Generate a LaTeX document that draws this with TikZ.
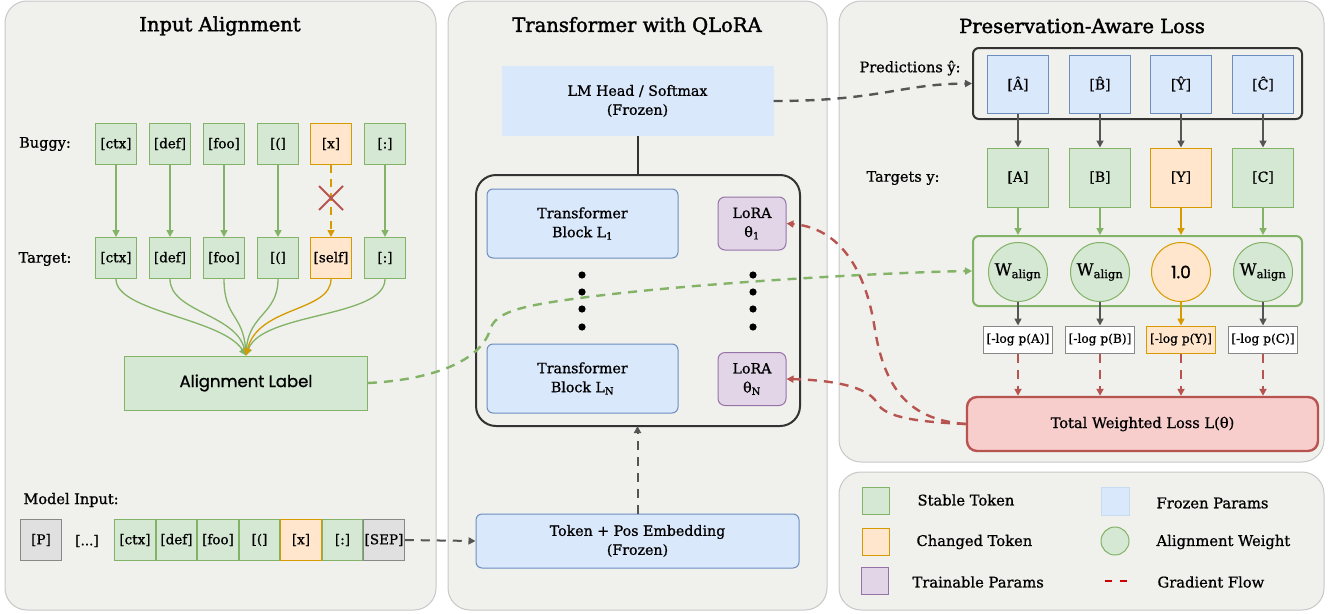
\documentclass[tikz,border=0pt]{standalone}
\usepackage{fontspec}
\setmainfont{DejaVu Serif}[FakeBold=0.9]
\newfontfamily\titleserif{DejaVu Serif}[FakeBold=1.8]
\newfontfamily\labelsans{Poppins}[FakeBold=1.0]
\usetikzlibrary{arrows.meta,positioning}

\definecolor{panelbg}{HTML}{F0F0EC}
\definecolor{panelline}{HTML}{C8C8C8}
\definecolor{stablefill}{HTML}{D5E8D4}
\definecolor{stableline}{HTML}{82B366}
\definecolor{changedfill}{HTML}{FFE6CC}
\definecolor{changedline}{HTML}{D79B00}
\definecolor{frozenfill}{HTML}{DAE8FC}
\definecolor{frozenline}{HTML}{6C8EBF}
\definecolor{trainfill}{HTML}{E1D5E7}
\definecolor{trainline}{HTML}{9673A6}
\definecolor{lossfill}{HTML}{F8CECC}
\definecolor{lossline}{HTML}{B85450}
\definecolor{flowgray}{HTML}{555555}
\definecolor{padfill}{HTML}{E0E0E0}
\definecolor{padline}{HTML}{888888}
\definecolor{darkframe}{HTML}{333333}
\definecolor{gradred}{HTML}{CC0000}

\tikzset{
  panel/.style={draw=panelline, fill=panelbg, rounded corners=22pt, line width=1pt},
  title/.style={font=\titleserif\fontsize{19.5}{22}\selectfont},
  rowlabel/.style={font=\fontsize{14.5}{17}\selectfont},
  tok/.style={draw=stableline, fill=stablefill, minimum size=41pt, inner sep=0pt, line width=1pt, font=\fontsize{13.5}{15}\selectfont},
  chg/.style={tok, draw=changedline, fill=changedfill},
  pad/.style={tok, draw=padline, fill=padfill},
  seqtok/.style={tok, minimum width=40.5pt},
  seqchg/.style={chg, minimum width=40.5pt},
  frozen/.style={fill=frozenfill, draw=frozenline, rounded corners=6pt, line width=1pt, align=center, font=\fontsize{14.2}{19}\selectfont},
  lora/.style={fill=trainfill, draw=trainline, rounded corners=7pt, line width=1pt, minimum width=68pt, minimum height=53pt, align=center, font=\fontsize{14.2}{19}\selectfont},
  pred/.style={draw=frozenline, fill=frozenfill, minimum width=61pt, minimum height=58pt, inner sep=0pt, line width=1pt, font=\fontsize{14}{16}\selectfont},
  tgt/.style={tok, minimum width=61pt, minimum height=59pt, font=\fontsize{14}{16}\selectfont},
  tgtchg/.style={tgt, draw=changedline, fill=changedfill},
  wcirc/.style={circle, draw=stableline, fill=stablefill, minimum size=59pt, inner sep=0pt, line width=1pt, font=\fontsize{16.5}{18}\selectfont},
  ccirc/.style={wcirc, draw=changedline, fill=changedfill, font=\labelsans\fontsize{17}{19}\selectfont},
  logbox/.style={draw=padline, fill=white, minimum width=69pt, minimum height=27pt, inner sep=0pt, line width=1pt, font=\fontsize{12.2}{14}\selectfont},
  logchg/.style={logbox, draw=changedline, fill=changedfill},
  legtext/.style={anchor=west, font=\fontsize{14.7}{17}\selectfont},
  tip/.style={-{Triangle[length=7pt,width=7pt]}},
  garrow/.style={tip, draw=stableline, line width=1.6pt},
  oarrow/.style={tip, draw=changedline, line width=1.6pt},
  karrow/.style={tip, draw=flowgray, line width=1.6pt},
  flowdash/.style={line width=2.4pt, dash pattern=on 9pt off 7pt},
  redflow/.style={tip, flowdash, draw=lossline},
}

\begin{document}
\begin{tikzpicture}[x=1pt,y=-1pt]
\useasboundingbox (0,0) rectangle (1337,613);

% panels
\draw[panel] (5,1) rectangle (436,610);
\draw[panel] (448,1) rectangle (827,610);
\draw[panel] (839,1) rectangle (1324,462);
\draw[panel] (839,472) rectangle (1324,610);

\node[title] (title1) at (220,26) {Input Alignment};
\node[title] (title2) at (637,26) {Transformer with QLoRA};
\node[title] (title3) at (1082,26) {Preservation-Aware Loss};

% ---- input alignment ----
\node[rowlabel] (buggy) at (45,144) {Buggy:};
\node[rowlabel] (target) at (45,259) {Target:};
\foreach \i/\x/\txt/\kind in {1/116/{[ctx]}/tok,2/170/{[def]}/tok,3/224/{[foo]}/tok,4/278/{[(]}/tok,5/331/{[x]}/chg,6/385/{[:]}/tok}
  \node[\kind] (bug\i) at (\x,144) {\txt};
\foreach \i/\x/\txt/\kind in {1/116/{[ctx]}/tok,2/170/{[def]}/tok,3/224/{[foo]}/tok,4/278/{[(]}/tok,5/331/{[self]}/chg,6/385/{[:]}/tok}
  \node[\kind] (tgt\i) at (\x,258) {\txt};
\foreach \i in {1,2,3,4,6}
  \draw[garrow] (bug\i) -- (tgt\i);
\draw[oarrow, dash pattern=on 8pt off 6pt] (bug5) -- (tgt5);
\draw[lossline, line width=2pt] (319,186) -- (343,210) (319,210) -- (343,186);

\node[draw=stableline, fill=stablefill, line width=1pt, minimum width=243pt, minimum height=54pt,
  font=\labelsans\fontsize{16.5}{19}\selectfont] (align) at (246,383) {Alignment Label};
\foreach \i/\ax/\ay/\bx/\by in {1/116/312/222/318,2/170/312/236/314,3/224/318/243/314,4/278/314/249/314,6/385/318/262/312}
  \draw[garrow, line width=1.3pt] (tgt\i.south) .. controls (\ax,\ay) and (\bx,\by) .. (align.north);
\draw[oarrow, line width=1.3pt] (tgt5.south) .. controls (331,312) and (258,306) .. (align.north);

% model input row
\node[rowlabel, anchor=west] (modelin) at (20,500) {Model Input:};
\node[pad] (padP) at (41,540) {[P]};
\node[font=\fontsize{13.5}{15}\selectfont] (gap) at (87,541) {[...]};
\node[seqtok] (in1) at (135,540) {[ctx]};
\node[seqtok, right=0pt of in1] (in2) {[def]};
\node[seqtok, right=0pt of in2] (in3) {[foo]};
\node[seqtok, right=0pt of in3] (in4) {[(]};
\node[seqchg, right=0pt of in4] (in5) {[x]};
\node[seqtok, right=0pt of in5] (in6) {[:]};
\node[pad, minimum width=40.5pt, right=0pt of in6] (sep) {[SEP]};

% ---- transformer ----
\node[frozen, draw=frozenfill, rounded corners=0pt, minimum width=271pt, minimum height=69pt] (lmhead) at (637.5,101) {LM Head / Softmax\\(Frozen)};
\draw[darkframe, line width=2pt, rounded corners=20pt] (476,175) rectangle (800,426);
\coordinate (stacktop) at (637.5,175);
\coordinate (stackbot) at (637.5,426);
\draw[darkframe, line width=2pt] (lmhead.south) -- (stacktop);
\node[frozen, minimum width=191pt, minimum height=69pt] (blk1) at (582.5,223.5) {Transformer\\Block L\textsubscript{1}};
\node[frozen, minimum width=191pt, minimum height=69pt] (blkN) at (582.5,378.5) {Transformer\\Block L\textsubscript{N}};
\node[lora] (lora1) at (752,223.5) {LoRA\\θ\textsubscript{1}};
\node[lora] (loraN) at (752,379) {LoRA\\θ\textsubscript{N}};
\foreach \y in {275,292,309,327} {
  \fill (582,\y) circle (3.6pt);
  \fill (753,\y) circle (3.6pt);
}
\node[frozen, minimum width=323pt, minimum height=54pt] (embed) at (637.5,541) {Token + Pos Embedding\\(Frozen)};
\draw[karrow, flowdash, line width=2pt] (sep.east) -- (embed.west);
\draw[karrow, flowdash, line width=2pt] (embed.north) -- (stackbot);

% ---- loss ----
\node[draw=darkframe, line width=2pt, rounded corners=6pt, minimum width=329pt, minimum height=71pt] (predframe) at (1137.5,83.5) {};
\node[draw=stableline, line width=2pt, rounded corners=6pt, minimum width=329pt, minimum height=70pt] (wframe) at (1137.5,271) {};
\node[rowlabel] (predlab) at (910,68) {Predictions ŷ:};
\node[rowlabel] (tgtlab) at (903,178) {Targets y:};
\foreach \i/\x/\pr/\tg/\kind in {1/1018/{[Â]}/{[A]}/tgt,2/1100/{[B̂]}/{[B]}/tgt,3/1181/{[Ŷ]}/{[Y]}/tgtchg,4/1263/{[Ĉ]}/{[C]}/tgt} {
  \node[pred] (pr\i) at (\x,84) {\pr};
  \node[\kind] (ty\i) at (\x,177.5) {\tg};
  \draw[karrow] (pr\i) -- (ty\i);
}
\foreach \i/\x/\kind/\w/\lg/\lk in {1/1018/wcirc/{W\textsubscript{align}}/{[-log p(A)]}/logbox,2/1100/wcirc/{W\textsubscript{align}}/{[-log p(B)]}/logbox,3/1181/ccirc/{1.0}/{[-log p(Y)]}/logchg,4/1263/wcirc/{W\textsubscript{align}}/{[-log p(C)]}/logbox} {
  \node[\kind] (w\i) at (\x,272) {\w};
  \node[\lk] (lg\i) at (\x,339.5) {\lg};
}
\foreach \i in {1,2,4} {
  \draw[garrow] (ty\i.south) -- (ty\i.south |- wframe.north);
  \draw[karrow] (w\i.south) -- (lg\i.north);
}
\draw[oarrow] (ty3.south) -- (ty3.south |- wframe.north);
\draw[oarrow] (w3.south) -- (lg3.north);
\node[draw=lossline, fill=lossfill, line width=2.4pt, rounded corners=10pt, minimum width=351pt, minimum height=54pt,
  font=\fontsize{14.6}{17}\selectfont] (loss) at (1142.5,424) {Total Weighted Loss L(θ)};
\foreach \i in {1,...,4}
  \draw[redflow, line width=2pt] (lg\i.south) -- (lg\i.south |- loss.north);

% cross-panel flows
\draw[karrow, flowdash] (lmhead.east) .. controls (880,101) and (900,84) .. (predframe.west);
\draw[tip, flowdash, draw=stableline] (align.east) .. controls (430,380) and (480,362) .. (490,330)
  .. controls (495,312) and (520,306) .. (580,298) .. controls (700,282) and (900,272) .. (wframe.west);
\draw[redflow] (loss.west) .. controls (910,420) and (885,390) .. (875,330)
  .. controls (866,270) and (840,228) .. (lora1.east);
\draw[redflow] (loss.west) .. controls (920,422) and (885,418) .. (877,403)
  .. controls (868,386) and (830,380) .. (loraN.east);

% legend
\node[tok, minimum size=27pt] (legstable) at (875.5,500.5) {};
\node[legtext] at (914,500) {Stable Token};
\node[chg, minimum size=27pt] (legchg) at (875.5,541.5) {};
\node[legtext] at (913,542) {Changed Token};
\node[tok, draw=trainline, fill=trainfill, minimum size=27pt] (legtrain) at (874.5,581) {};
\node[legtext] at (909,582) {Trainable Params};
\node[fill=frozenfill, draw=frozenfill!85!frozenline, minimum size=28pt, inner sep=0pt] (legfrozen) at (1115.5,501.5) {};
\node[legtext] at (1153,503) {Frozen Params};
\node[circle, draw=stableline, fill=stablefill, minimum size=28pt, inner sep=0pt, line width=1pt] (legw) at (1115,541) {};
\node[legtext] at (1153,542) {Alignment Weight};
\draw[gradred, line width=2.4pt, dash pattern=on 7pt off 8pt] (1105,581) -- (1128,581);
\node[legtext] at (1154,582) {Gradient Flow};
\end{tikzpicture}
\end{document}
